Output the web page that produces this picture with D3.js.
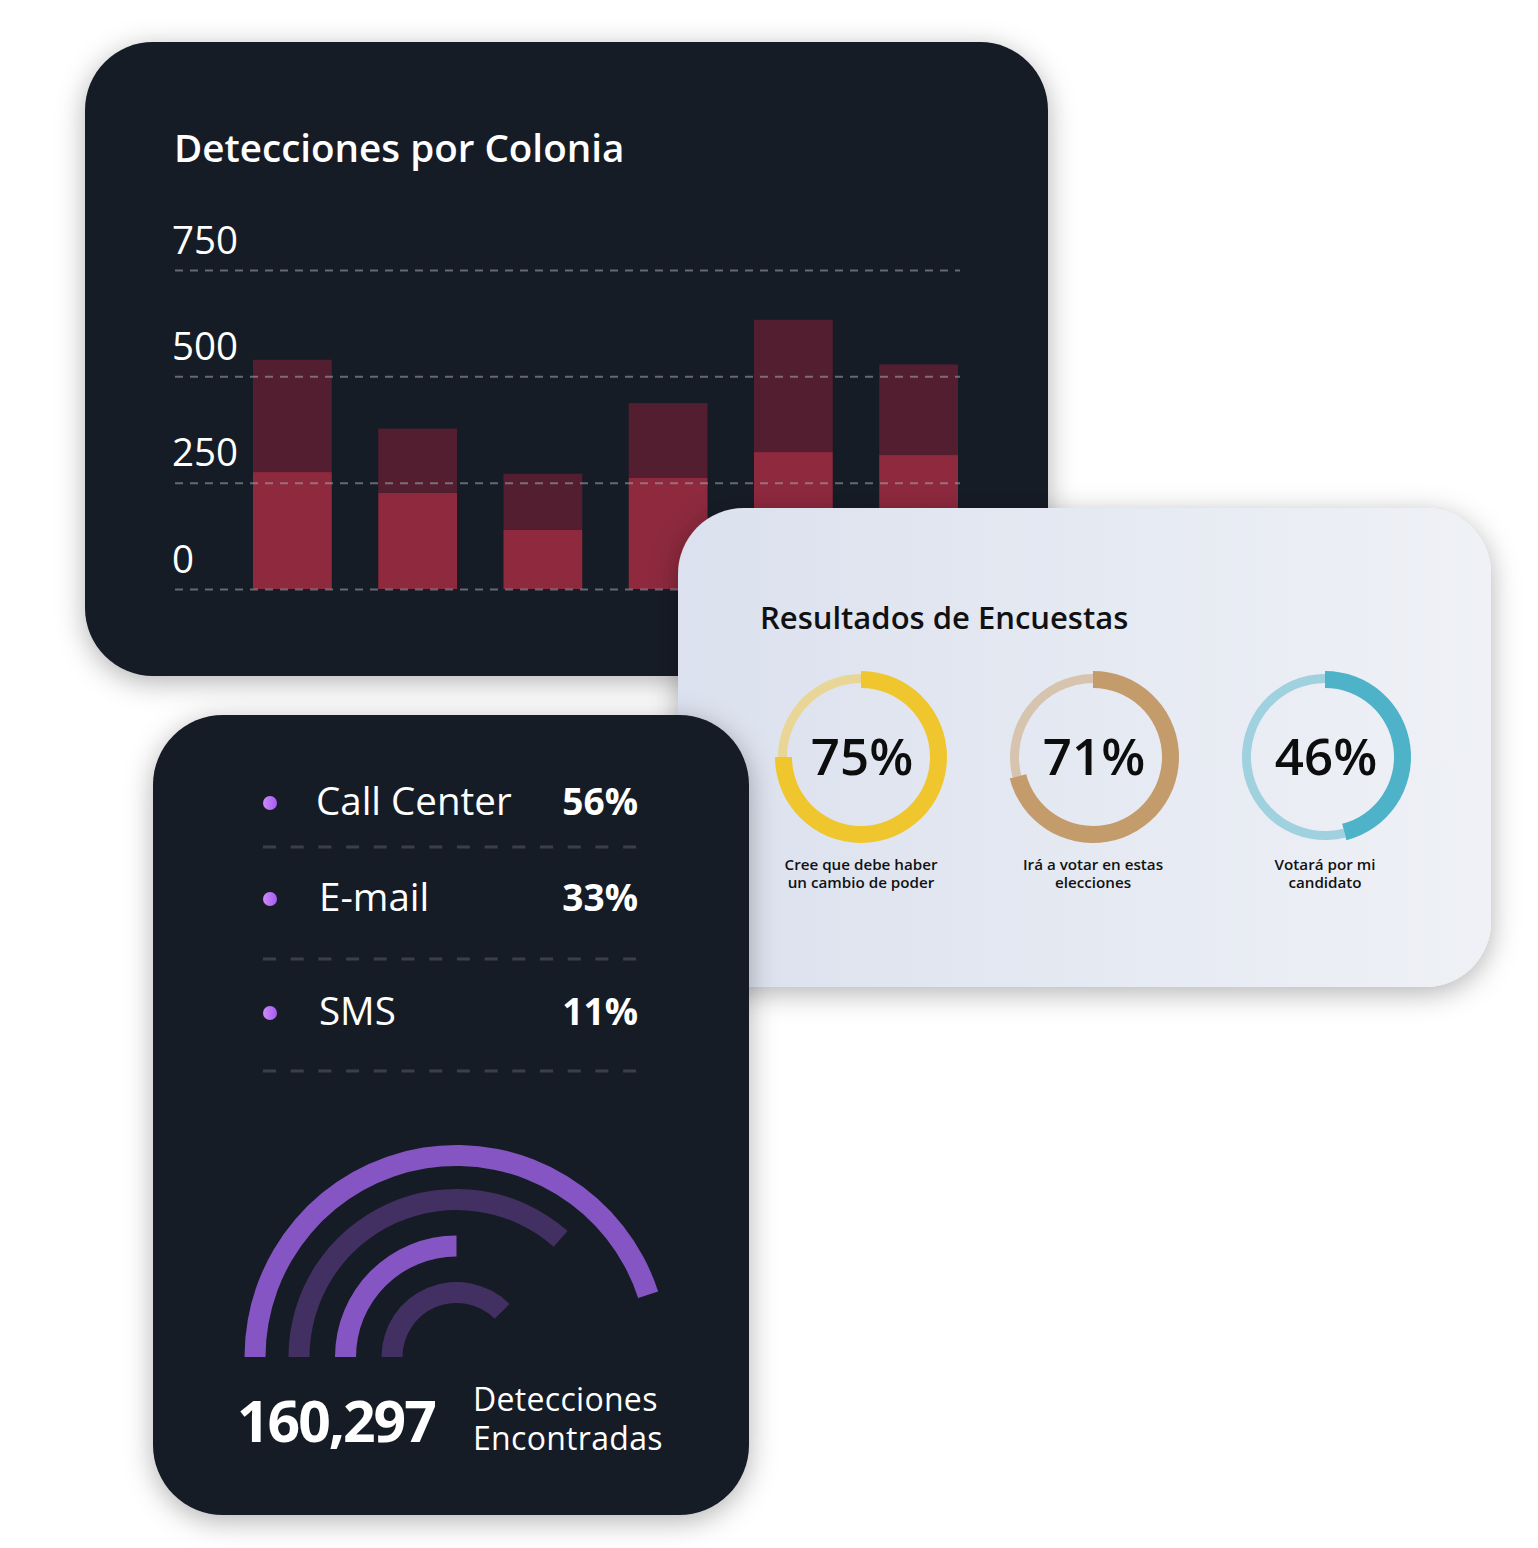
<!DOCTYPE html>
<html><head><meta charset="utf-8">
<script src="https://cdn.jsdelivr.net/npm/d3@7"></script>
<style>html,body{margin:0;padding:0;background:#fff;} svg{display:block;font-family:"Open Sans",sans-serif;}</style>
</head><body><svg id="c" width="1538" height="1548"></svg>
<script>
// ---- data ----
const colonias = ["Colonia 1","Colonia 2","Colonia 3","Colonia 4","Colonia 5","Colonia 6"];
const detectadas = [275, 226, 139, 262, 322, 315];
const adicionales = [264, 151, 132, 175, 311, 213];
const yTicks = [0, 250, 500, 750];

const encuestaTextos = [["Cree que debe haber","un cambio de poder"],["Irá a votar en estas","elecciones"],["Votará por mi","candidato"]];
const encuestaValores = [75, 71, 46];
const encuestaColores = ["#f0c62f", "#c49c6b", "#4eb3c9"];
const encuestaFondos = ["#e9d696", "#d7c4ae", "#9fd1df"];

const canales = ["Call Center", "E-mail", "SMS"];
const canalPct = [56, 33, 11];

const arcosValores = [90, 73, 50, 75];
const totalDetecciones = 160297;

// ---- setup ----
const svg = d3.select("#c");
const defs = svg.append("defs");
const sh = defs.append("filter").attr("id","sh").attr("x","-20%").attr("y","-20%").attr("width","140%").attr("height","140%");
sh.append("feDropShadow").attr("dx",0).attr("dy",6).attr("stdDeviation",14).attr("flood-color","#000").attr("flood-opacity",0.3);
const lg = defs.append("linearGradient").attr("id","lg").attr("x1",0).attr("x2",1).attr("y1",0).attr("y2",0);
lg.append("stop").attr("offset","0%").attr("stop-color","#dbe1ee");
lg.append("stop").attr("offset","100%").attr("stop-color","#eff1f6");
const dg = defs.append("linearGradient").attr("id","dg").attr("x1",0).attr("x2",1).attr("y1",0).attr("y2",0);
dg.append("stop").attr("offset","0%").attr("stop-color","#cf8bf8");
dg.append("stop").attr("offset","100%").attr("stop-color","#a35cf0");

const DARK = "#161a26";

// ---- card 1: bar chart ----
svg.append("rect").attr("x",85).attr("y",42).attr("width",963).attr("height",634).attr("rx",68)
  .attr("fill",DARK).attr("filter","url(#sh)");
svg.append("text").attr("x",174).attr("y",162).attr("fill","#fff").attr("font-size",38.6).attr("font-weight",600)
  .text("Detecciones por Colonia");

const x = d3.scaleBand().domain(colonias).range([253, 958]).paddingInner(0.371).paddingOuter(0);
const y = d3.scaleLinear().domain([0, 750]).range([589, 270]);
const rows = colonias.map((c,i)=>({colonia:c, detectadas:detectadas[i], adicionales:adicionales[i]}));
const stack = d3.stack().keys(["detectadas","adicionales"])(rows);
const barColors = {detectadas:"#8e293e", adicionales:"#531f30"};
svg.append("g").selectAll("g").data(stack).join("g").attr("fill",d=>barColors[d.key])
  .selectAll("rect").data(d=>d).join("rect")
  .attr("x",d=>x(d.data.colonia)).attr("width",x.bandwidth())
  .attr("y",d=>y(d[1])).attr("height",d=>y(d[0])-y(d[1]));

const gAxis = svg.append("g").attr("transform","translate(175,0)")
  .call(d3.axisRight(y).tickValues(yTicks).tickSize(785).tickFormat(d3.format("d")));
gAxis.select(".domain").remove();
gAxis.selectAll(".tick line").attr("stroke","rgba(165,170,180,0.55)").attr("stroke-width",2).attr("stroke-dasharray","8,7");
gAxis.selectAll(".tick text").attr("x",-3).attr("dy",-17).attr("text-anchor","start")
  .attr("fill","#fff").attr("font-size",38.5).attr("font-family","Open Sans").attr("font-weight",400);

// ---- card 2: surveys ----
svg.append("rect").attr("x",678).attr("y",508).attr("width",813).attr("height",479).attr("rx",66)
  .attr("fill","url(#lg)").attr("filter","url(#sh)");
svg.append("text").attr("x",760).attr("y",629).attr("fill","#111").attr("font-size",31).attr("font-weight",600)
  .text("Resultados de Encuestas");

const cx = d3.scalePoint().domain(d3.range(encuestaValores.length)).range([861, 1325]);
const thick = d3.arc().innerRadius(69).outerRadius(86);
const thin = d3.arc().innerRadius(74).outerRadius(83);
const gD = svg.append("g").selectAll("g").data(encuestaValores).join("g")
  .attr("transform",(d,i)=>`translate(${cx(i)},757)`);
gD.append("path").attr("fill",(d,i)=>encuestaFondos[i])
  .attr("d",d=>thin({startAngle:2*Math.PI*d/100, endAngle:2*Math.PI}));
gD.append("path").attr("fill",(d,i)=>encuestaColores[i])
  .attr("d",d=>thick({startAngle:0, endAngle:2*Math.PI*d/100}));
gD.append("text").attr("x",1).attr("y",18).attr("text-anchor","middle").attr("fill","#0d0d0d")
  .attr("font-size",51).attr("font-weight",600).text(d=>d+"%");
gD.each(function(d,i){
  const t = d3.select(this).append("text").attr("text-anchor","middle").attr("fill","#111")
    .attr("font-size",15.2).attr("font-weight",600);
  encuestaTextos[i].forEach((line,j)=>t.append("tspan").attr("x",0).attr("y",113+j*18).text(line));
});

// ---- card 3: channels ----
svg.append("rect").attr("x",153).attr("y",715).attr("width",596).attr("height",800).attr("rx",70)
  .attr("fill",DARK).attr("filter","url(#sh)");
const rowY = [803, 899, 1013];
const gR = svg.append("g").selectAll("g").data(canales).join("g");
gR.append("circle").attr("cx",270).attr("cy",(d,i)=>rowY[i]).attr("r",7).attr("fill","url(#dg)");
gR.append("text").attr("x",(d,i)=>i===0?316:319).attr("y",(d,i)=>rowY[i]+12).attr("fill","#fff")
  .attr("font-size",38.5).attr("font-weight",400).text(d=>d);
gR.append("text").attr("x",638).attr("y",(d,i)=>rowY[i]+12).attr("text-anchor","end").attr("fill","#fff")
  .attr("font-size",37).attr("font-weight",700).text((d,i)=>canalPct[i]+"%");
gR.append("line").attr("x1",263).attr("x2",640).attr("y1",(d,i)=>847+i*112).attr("y2",(d,i)=>847+i*112)
  .attr("stroke","#3b3f4b").attr("stroke-width",3).attr("stroke-dasharray","13,14.7");

const radii = [[191,212],[147,168],[100.5,121.5],[54,75]];
const arcColors = ["#8655c4","#433063","#8655c4","#433063"];
const arcGen = d3.arc();
svg.append("g").attr("transform","translate(456.5,1357)").selectAll("path").data(arcosValores).join("path")
  .attr("fill",(d,i)=>arcColors[i])
  .attr("d",(d,i)=>arcGen({innerRadius:radii[i][0], outerRadius:radii[i][1], startAngle:-Math.PI/2, endAngle:-Math.PI/2 + Math.PI*d/100}));

svg.append("text").attr("x",237).attr("y",1442).attr("fill","#fff").attr("font-size",57).attr("font-weight",700)
  .attr("letter-spacing",-2).text(d3.format(",")(totalDetecciones));
svg.append("text").attr("x",473).attr("y",1411).attr("fill","#fff").attr("font-size",32).attr("font-weight",500)
  .attr("letter-spacing",0.3).text("Detecciones");
svg.append("text").attr("x",473).attr("y",1450).attr("fill","#fff").attr("font-size",32).attr("font-weight",500)
  .attr("letter-spacing",0.3).text("Encontradas");
</script></body></html>
